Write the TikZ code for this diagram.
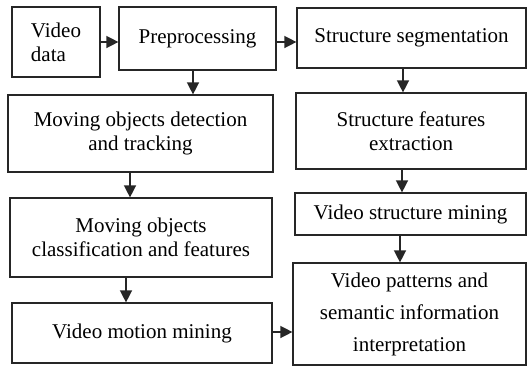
\documentclass[tikz,border=0pt]{standalone}
\usepackage{fontspec}
\setmainfont{Liberation Serif}
\usetikzlibrary{arrows.meta}

\tikzset{
  box/.style={draw=black!85, line width=1.2pt, rectangle, align=center, inner sep=0pt,
    font=\fontsize{21}{24}\selectfont},
  arr/.style={draw=black!85, line width=1.4pt, -{Triangle[length=12pt,width=12pt]}}
}

\begin{document}
\begin{tikzpicture}[x=1pt,y=-1pt]
  \useasboundingbox (0,0) rectangle (527,370);

  % Left column
  \node [box, minimum width=88pt, minimum height=70pt, align=left] (vdata) at (56,42) {Video\\data};
  \node [box, minimum width=157pt, minimum height=63pt] (prep) at (197.5,38.5) {Preprocessing};
  \node [box, minimum width=265pt, minimum height=77pt] (mdet) at (140.5,133.5) {Moving objects detection\\and tracking};
  \node [box, minimum width=262pt, minimum height=79pt] (mcls) at (141,237.5) {Moving objects\\classification and features};
  \node [box, minimum width=260pt, minimum height=60pt] (vmmine) at (142,333) {Video motion mining};

  % Right column
  \node [box, minimum width=229pt, minimum height=60pt] (sseg) at (411.5,38) {Structure segmentation};
  \node [box, minimum width=230pt, minimum height=76pt] (sfeat) at (411,131) {Structure features\\extraction};
  \node [box, minimum width=231pt, minimum height=42pt] (vsmine) at (410.5,214) {Video structure mining};
  \node [box, minimum width=233pt, minimum height=102pt, font=\fontsize{21}{32}\selectfont] (vpat) at (409.5,314) {Video patterns and\\semantic information\\interpretation};

  % Arrows
  \draw [arr] (vdata.east |- 0,42) -- (prep.west |- 0,42);
  \draw [arr] (prep.east |- 0,42) -- (sseg.west |- 0,42);
  \draw [arr] (prep.south -| 193,0) -- (mdet.north -| 193,0);
  \draw [arr] (mdet.south -| 130,0) -- (mcls.north -| 130,0);
  \draw [arr] (mcls.south -| 126,0) -- (vmmine.north -| 126,0);
  \draw [arr] (sseg.south -| 403,0) -- (sfeat.north -| 403,0);
  \draw [arr] (sfeat.south -| 402,0) -- (vsmine.north -| 402,0);
  \draw [arr] (vsmine.south -| 400,0) -- (vpat.north -| 400,0);
  \draw [arr] (vmmine.east |- 0,332) -- (vpat.west |- 0,332);
\end{tikzpicture}
\end{document}
